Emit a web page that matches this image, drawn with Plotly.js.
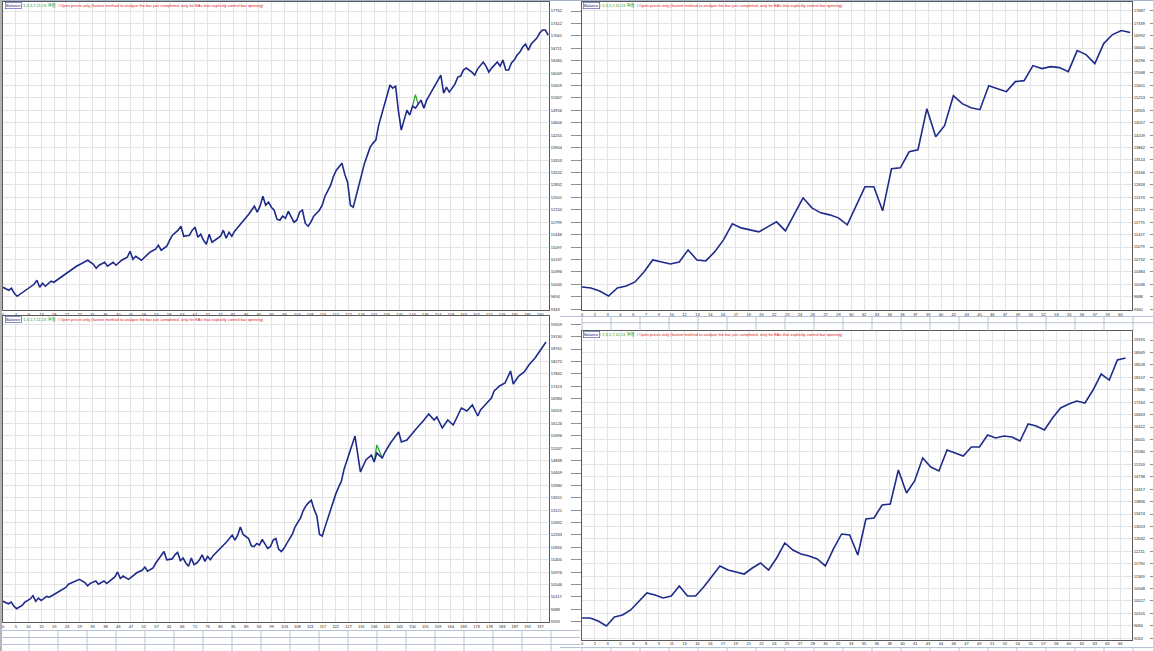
<!DOCTYPE html>
<html><head><meta charset="utf-8">
<script src="https://cdn.plot.ly/plotly-3.0.1.min.js"></script>
<style>html,body{margin:0;padding:0;background:#fff;overflow:hidden}#chart{width:1153px;height:651px}</style>
</head><body><div id="chart"></div>
<script>
// ---------- data: top-left tester run ----------
const tlTrade = [0,2,3,4,5,7,9,11,12,13,
 14,15,17,18,20,22,24,26,28,30,
 32,33,34,36,37,39,40,42,44,45,
 46,47,49,51,52,54,55,56,58,59,
 60,62,63,64,66,67,68,69,70,71,
 72,73,74,75,77,78,79,80,81,82,
 84,86,87,89,90,91,92,93,94,95,
 96,97,98,99,100,101,103,104,105,106,
 107,108,109,110,112,113,114,116,117,118,
 119,120,121,122,123,124,125,126,127,128,
 129,130,131,132,133,134,135,136,137,138,
 139,140,141,142,143,144,145,146,147,148,
 149,150,151,152,153,154,155,156,157,158,
 159,160,161,162,163,164,166,167,168,169,
 170,171,172,173,174,175,176,177,178,179,
 180,181,182,183,184,185,186,187,189,190,
 191,192,193];
const tlBalance = [9965,9880,9936,9795,9710,9823,9936,10049,10162,9965,
 10078,9993,10134,10106,10219,10332,10445,10558,10643,10727,
 10614,10501,10586,10671,10558,10671,10586,10727,10812,10982,
 10756,10840,10727,10869,10953,11038,11151,11010,11123,11292,
 11434,11575,11688,11405,11434,11575,11660,11377,11462,11292,
 11179,11462,11236,11292,11405,11575,11349,11518,11405,11547,
 11744,11914,12027,12253,12083,12253,12535,12281,12366,12225,
 12140,11886,11857,11970,11914,12112,11801,11857,12083,12140,
 11773,11688,11801,11970,12140,12281,12535,12846,13100,13270,
 13383,13467,13157,12931,12281,12225,12535,12846,13157,13467,
 13694,13920,14033,14117,14541,14824,15106,15389,15671,15586,
 15643,14937,14400,14682,14965,14824,15078,15021,15130,15247,
 15021,15247,15389,15530,15643,15812,15954,15445,15615,15473,
 15586,15699,15897,15925,16095,16151,16038,15954,16123,16208,
 16321,16208,16038,16151,16236,16321,16208,16377,16095,16095,
 16293,16377,16519,16603,16745,16829,16660,16829,16999,17140,
 17225,17225,17083];
const tlEquityTrade = [145,146,147];
const tlEquity = [15078,15400,15130];

// ---------- data: top-right tester run (trade 0..62) ----------
const trBalance = [9964,9936,9852,9712,9936,9992,10104,10384,10720,10664,
 10608,10664,11000,10720,10692,10944,11280,11728,11616,11560,
 11504,11644,11784,11532,11980,12456,12176,12036,11980,11896,
 11700,12232,12764,12764,12092,13268,13296,13744,13800,14948,
 14164,14472,15312,15088,14976,14920,15592,15508,15424,15704,
 15732,16152,16068,16124,16096,15984,16572,16460,16208,16768,
 17020,17132,17076];

// ---------- data: bottom-left tester run ----------
const blTrade = [0,2,3,4,5,7,8,10,11,12,
 13,14,16,17,19,21,23,24,26,28,
 30,31,32,34,35,37,38,40,41,42,
 43,44,46,48,49,51,52,53,55,56,
 57,58,59,60,62,63,64,65,66,67,
 68,69,70,71,72,73,74,75,76,77,
 79,81,82,84,85,86,87,88,89,90,
 91,92,93,94,95,97,98,99,100,101,
 102,103,104,105,106,107,109,110,111,112,
 113,114,115,116,117,118,119,120,121,122,
 123,124,125,126,127,128,129,131,133,135,
 136,137,139,140,142,145,146,148,150,152,
 154,156,158,159,161,163,165,167,168,170,
 172,174,175,177,179,180,182,184,186,187,
 189,191,193,195,197,199];
const blBalance = [9965,9880,9936,9795,9710,9823,9936,10049,10162,9965,
 10078,9993,10134,10106,10219,10332,10445,10558,10643,10727,
 10614,10501,10586,10671,10558,10671,10586,10727,10812,10982,
 10756,10840,10727,10869,10953,11038,11151,11010,11123,11292,
 11434,11575,11688,11405,11434,11575,11660,11377,11462,11292,
 11179,11462,11236,11292,11405,11575,11349,11518,11405,11547,
 11744,11914,12027,12253,12083,12253,12535,12281,12225,12140,
 11886,11857,11970,11914,12112,11801,11857,12083,12140,11773,
 11688,11801,11970,12140,12281,12535,12846,13100,13270,13383,
 13467,13157,12931,12281,12225,12535,12846,13157,13467,13694,
 13920,14117,14541,14824,15106,15389,15690,14443,14859,15032,
 14790,15100,14928,15136,15448,15829,15482,15552,15794,16002,
 16209,16452,16244,16348,15967,16244,16071,16452,16660,16556,
 16764,16383,16591,16799,17006,17249,17422,17526,17941,17491,
 17768,17907,18184,18392,18669,18946];
const blEquityTrade = [136,137,139];
const blEquity = [14790,15380,14928];

// ---------- data: bottom-right tester run (trade 0..67) ----------
const brBalance = [9951,9951,9849,9680,9985,10052,10222,10493,10798,10730,
 10628,10696,11035,10696,10696,11001,11340,11713,11577,11509,
 11441,11645,11814,11577,11984,12492,12255,12119,12051,11950,
 11713,12289,12797,12763,12085,13305,13339,13780,13814,14966,
 14187,14593,15372,15067,14932,15643,15541,15440,15745,15745,
 16152,16050,16118,16084,15948,16524,16456,16321,16727,17066,
 17200,17302,17235,17675,18217,18014,18691,18759];

// ---------- tick labels ----------
const tlXLabels = [0,4,9,13,18,22,27,31,36,40,45,49,54,58,63,67,72,77,81,86,90,95,99,104,108,113,117,122,126,131,135,140,144,149,154,158,163,167,172,176,181,185,190];
const trXLabels = [0,2,3,4,6,7,9,10,12,13,14,16,17,19,20,22,23,24,26,27,29,30,32,33,34,36,37,39,40,42,43,45,46,47,49,50,52,53,55,56,57,59,60];
const blXLabels = [0,5,10,15,19,24,29,33,38,43,47,52,57,61,66,71,75,80,85,89,94,99,103,108,113,117,122,127,131,136,141,145,150,155,159,164,169,173,178,183,187,192,197];
const brXLabels = [0,2,3,5,6,8,9,11,13,14,16,17,19,21,22,24,25,27,28,30,32,33,35,36,38,40,41,43,44,46,47,49,51,52,54,55,57,58,60,62,63,65,66];
const tlYLabels = [9343,9694,10045,10396,10747,11097,11448,11799,12150,12501,12852,13202,13553,13904,14255,14606,14956,15307,15659,16009,16360,16711,17061,17412,17762];
const trYLabels = [9340,9688,10036,10384,10732,11079,11427,11775,12123,12470,12818,13166,13514,13862,14209,14557,14905,15253,15601,15948,16296,16644,16992,17339,17687];
const blYLabels = [9259,9688,10117,10546,10976,11405,11834,12263,12692,13121,13551,13980,14409,14838,15267,15696,16126,16555,16984,17413,17842,18272,18701,19130,19559];
const brYLabels = [9263,9684,10105,10527,10948,11369,11790,12211,12632,13053,13474,13896,14317,14738,15159,15580,16001,16422,16843,17264,17686,18107,18528,18949,19370];

const legendBalance = 'Balance';
const legendEquity = '/ 1,3,5,7,11,13 净值';
const legendMode = '/ Open prices only (fastest method to analyze the bar just completed, only for EAs that explicitly control bar opening)';

// ---------- layout ----------
const W = 1153, H = 651;
const px = v => v / W, py = v => 1 - v / H;
const FONT = 'Liberation Sans, Arial, Noto Sans CJK SC, sans-serif';
const BAL = '#1f2b8a', EQ = '#22a622', FRAME = '#5a5a5a', GRID = '#e4e4e4', TABLE = '#b7c2d6';

const idx = arr => arr.map((_, i) => i);
const panels = [
  {n:'', L:3, R:549, T:2, B:310, xr:[0,193.3], yr:[9323,18016], xl:tlXLabels, step:4.53, yl:tlYLabels,
   tx:tlTrade, ty:tlBalance, ex:tlEquityTrade, ey:tlEquity, dashX:570, dashLen:10},
  {n:'2', L:582, R:1132, T:2, B:310, xr:[0,62.2], yr:[9320,17930], xl:trXLabels, step:1.45, yl:trYLabels,
   tx:idx(trBalance), ty:trBalance, dashX:1149, dashLen:4},
  {n:'3', L:3, R:549, T:316, B:622, xr:[0,200.1], yr:[9249,19846], xl:blXLabels, step:4.69, yl:blYLabels,
   tx:blTrade, ty:blBalance, ex:blEquityTrade, ey:blEquity, dashX:570, dashLen:10},
  {n:'4', L:582, R:1132, T:331, B:639.5, xr:[0,67.8], yr:[9222,19675], xl:brXLabels, step:1.58, yl:brYLabels,
   tx:idx(brBalance), ty:brBalance, dashX:1149, dashLen:4}
];

const data = [];
const layout = {
  width: W, height: H, margin: {l:0, r:0, t:0, b:0},
  paper_bgcolor: '#ffffff', plot_bgcolor: '#ffffff',
  showlegend: false, font: {family: FONT, size: 4, color: '#111'},
  shapes: [], annotations: []
};

const tickFont = {family: FONT, size: 4, color: '#1a1a1a'};
panels.forEach((p, i) => {
  const xa = 'x' + p.n, ya = 'y' + p.n, yd = 'y' + (5 + i);
  layout['xaxis' + p.n] = {
    domain: [px(p.L), px(p.R)], anchor: ya, range: p.xr,
    tickmode: 'array', tickvals: p.xl.map((_, k) => k * p.step), ticktext: p.xl.map(String),
    showgrid: true, gridcolor: GRID, gridwidth: 1, zeroline: false,
    showline: true, mirror: true, linecolor: FRAME, linewidth: 1,
    ticks: '', tickfont: tickFont, automargin: false, fixedrange: true
  };
  layout['yaxis' + p.n] = {
    domain: [py(p.B), py(p.T)], anchor: xa, side: 'right', range: p.yr,
    tickmode: 'array', tickvals: p.yl, ticktext: p.yl.map(String),
    showgrid: true, gridcolor: GRID, gridwidth: 1, zeroline: false,
    showline: true, mirror: true, linecolor: FRAME, linewidth: 1,
    ticks: '', tickfont: tickFont, automargin: false, fixedrange: true
  };
  layout['yaxis' + (5 + i)] = {
    overlaying: ya, anchor: 'free', position: px(p.dashX), side: 'right', range: p.yr,
    tickmode: 'array', tickvals: p.yl, showticklabels: false,
    ticks: 'outside', ticklen: p.dashLen, tickwidth: 1, tickcolor: '#8e8e8e',
    showgrid: false, showline: false, zeroline: false, fixedrange: true
  };
  // helper trace so the tick-mark axis is drawn
  data.push({type:'scatter', mode:'lines', x:p.tx, y:p.ty, xaxis:xa, yaxis:yd,
    opacity:0, line:{width:0}, hoverinfo:'skip'});
  if (p.ex) {
    data.push({type:'scatter', mode:'lines', x:p.ex, y:p.ey, xaxis:xa, yaxis:ya,
      line:{color:EQ, width:1.2}, hoverinfo:'skip'});
  }
  data.push({type:'scatter', mode:'lines', x:p.tx, y:p.ty, xaxis:xa, yaxis:ya,
    line:{color:BAL, width:1.6}, hoverinfo:'skip'});

  // legend header inside the chart
  const ly = py(p.T + 3.2);
  layout.annotations.push({xref:'paper', yref:'paper', x:px(p.L + 1.5), y:ly, xanchor:'left', yanchor:'middle',
    text:legendBalance, showarrow:false, font:{family:FONT, size:4, color:'#16167a'},
    bordercolor:'#3a4ab0', borderwidth:0.6, borderpad:0.3, bgcolor:'#ffffff'});
  layout.annotations.push({xref:'paper', yref:'paper', x:px(p.L + 15.5), y:ly, xanchor:'left', yanchor:'middle',
    text:legendEquity, showarrow:false, font:{family:FONT, size:4, color:'#1c9a1c'}});
  layout.annotations.push({xref:'paper', yref:'paper', x:px(p.L + 53), y:ly, xanchor:'left', yanchor:'middle',
    text:legendMode, showarrow:false, font:{family:FONT, size:4, color:'#e01818'}});
});

// window decorations: left strip, top line, result-table grid fragments
const S = layout.shapes;
const line = (x0, y0, x1, y1, c, w) => S.push({type:'line', xref:'paper', yref:'paper',
  x0:px(x0), y0:py(y0), x1:px(x1), y1:py(y1), line:{color:c, width:w || 1}, layer:'above'});
S.push({type:'rect', xref:'paper', yref:'paper', x0:0, x1:px(2), y0:0, y1:1, fillcolor:'#b3b3b3', line:{width:0}});
line(0, 0.5, W, 0.5, '#a7b3c7');
// strip above bottom-right chart
line(560, 316.5, W, 316.5, TABLE);
line(582, 322.7, W, 322.7, TABLE);
for (let k = 0; k < 20; k++) line(582 + 29 * k, 316.5, 582 + 29 * k, 330.5, TABLE);
// table under bottom-left chart
[630.5, 637.5, 644.5].forEach(y => line(0, y, 580, y, TABLE));
for (let k = 1; k < 20; k++) line(29 * k, 630.5, 29 * k, 651, TABLE);
// table under bottom-right chart
line(560, 647.5, W, 647.5, TABLE);
for (let k = 0; k < 20; k++) line(582 + 29 * k, 647.5, 582 + 29 * k, 651, TABLE);

Plotly.newPlot('chart', data, layout, {staticPlot: true, displayModeBar: false});
</script>
</body></html>
